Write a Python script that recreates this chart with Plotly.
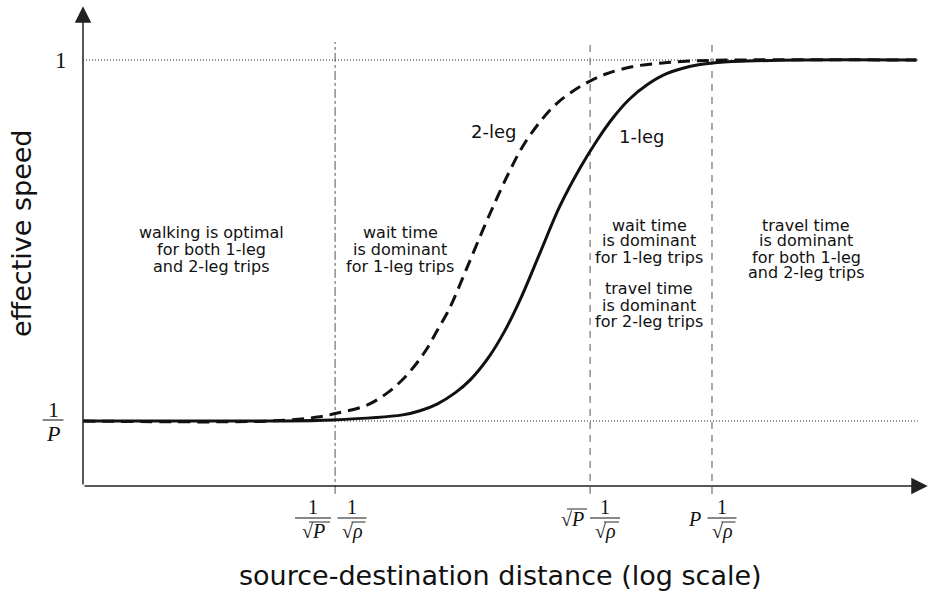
import plotly.graph_objects as go

# ---------------- data (log-distance units, normalized speed: 0 -> 1/P, 1 -> 1) -------------
one_leg_x = [-2.957, -1.49, -1.0, -0.45, -0.314, -0.18, -0.039, 0.08, 0.235, 0.353, 0.47, 0.63,
             0.78, 0.94, 1.07, 1.20, 1.33, 1.47, 1.62, 1.80, 1.98, 2.25, 2.67, 3.58]
one_leg_y = [0, 0, 0.003, 0.017, 0.0285, 0.047, 0.078, 0.114, 0.182, 0.251, 0.335, 0.468,
             0.593, 0.700, 0.775, 0.840, 0.892, 0.932, 0.962, 0.982, 0.992, 0.997, 1.0, 1.0]

two_leg_x = [-2.957, -1.49, -1.12, -0.96, -0.73, -0.57, -0.45, -0.34, -0.26, -0.18, -0.10,
             -0.055, 0.055, 0.18, 0.29, 0.39, 0.49, 0.63, 0.76, 0.89, 1.0, 1.15, 1.36, 1.59,
             1.80, 2.12, 3.58]
two_leg_y = [0, 0, 0.011, 0.022, 0.044, 0.078, 0.115, 0.160, 0.200, 0.250, 0.300, 0.333,
             0.425, 0.530, 0.618, 0.693, 0.760, 0.830, 0.880, 0.915, 0.938, 0.962, 0.982,
             0.992, 0.997, 1.0, 1.0]

h_levels = [0.0, 1.0]                 # 1/P and 1
v_marks = [-0.98, 1.02, 1.976]        # 1/sqrt(P)*1/sqrt(rho), sqrt(P)/sqrt(rho), P/sqrt(rho)
v_styles = ["dashdot", "7px,6px", "7px,6px"]

region_texts = [
    ["walking is optimal", "for both 1-leg", "and 2-leg trips"],
    ["wait time", "is dominant", "for 1-leg trips"],
    ["wait time", "is dominant", "for 1-leg trips", "", "travel time", "is dominant", "for 2-leg trips"],
    ["travel time", "is dominant", "for both 1-leg", "and 2-leg trips"],
]
curve_labels = ["2-leg", "1-leg"]

# ---------------- layout geometry ----------------
W, H = 929, 592
L, R, T, B = 83, 0, 5, 92
X_MIN, X_MAX = -2.957, 3.678
Y_MIN, Y_MAX = -0.2188, 1.1524
Y_AXIS = -0.18
PW, PH = W - L - R, H - T - B


def px(xp):   # pixel -> paper x
    return (xp - L) / PW


def py(yp):   # pixel -> paper y
    return (H - B - yp) / PH


SANS = "DejaVu Sans"
SERIF = "Liberation Serif"
INK = "#111111"

fig = go.Figure()
fig.add_trace(go.Scatter(x=one_leg_x, y=one_leg_y, mode="lines", name="1-leg",
                         line=dict(color=INK, width=3, shape="spline", smoothing=1.0)))
fig.add_trace(go.Scatter(x=two_leg_x, y=two_leg_y, mode="lines", name="2-leg",
                         line=dict(color=INK, width=3, dash="12px,7px", shape="spline", smoothing=1.0)))

shapes = []
for lv in h_levels:
    shapes.append(dict(type="line", xref="x", yref="y", x0=X_MIN, x1=3.59, y0=lv, y1=lv,
                       line=dict(color="#222", width=1, dash="1px,2px"), layer="below"))
for xm, ds in zip(v_marks, v_styles):
    shapes.append(dict(type="line", xref="x", yref="y", x0=xm, x1=xm, y0=-0.202, y1=1.05,
                       line=dict(color="#555", width=1, dash=ds), layer="below"))

annotations = []
# axes with arrows
annotations.append(dict(x=X_MAX - 0.01, y=Y_AXIS, ax=X_MIN, ay=Y_AXIS, xref="x", yref="y",
                        axref="x", ayref="y", showarrow=True, arrowhead=2, arrowsize=2.2,
                        arrowwidth=1.5, arrowcolor="#222", text=""))
annotations.append(dict(x=X_MIN, y=1.149, ax=X_MIN, ay=Y_AXIS, xref="x", yref="y",
                        axref="x", ayref="y", showarrow=True, arrowhead=2, arrowsize=2.2,
                        arrowwidth=1.5, arrowcolor="#222", text=""))


def txt(x, y, s, size, family=SANS, angle=0):
    annotations.append(dict(x=px(x), y=py(y), xref="paper", yref="paper", text=s,
                            showarrow=False, xanchor="center", yanchor="middle",
                            textangle=angle, font=dict(family=family, size=size, color=INK)))


def hline(x0, x1, y, w=1.0):
    shapes.append(dict(type="line", xref="paper", yref="paper", x0=px(x0), x1=px(x1),
                       y0=py(y), y1=py(y), line=dict(color=INK, width=w)))


def sqrt_den(cx, cy, sym, size):
    txt(cx, cy, "√<i>" + sym + "</i>", size, SERIF)


def frac(cx, bar, width, num, den, size=20, sqrt=False):
    txt(cx, bar - 11, num, size, SERIF)
    hline(cx - width / 2, cx + width / 2, bar)
    if sqrt:
        sqrt_den(cx, bar + 13, den, size)
        hline(cx - width / 2 + 14, cx + width / 2 - 1, bar + 4, 0.9)
    else:
        txt(cx, bar + 13, "<i>" + den + "</i>", size, SERIF)


# y tick labels
txt(61, 60, "1", 23, SERIF)
frac(53, 420, 21, "1", "P", size=22)

# x tick labels
frac(313, 518, 36, "1", "P", sqrt=True)
frac(352, 518, 29, "1", "ρ", sqrt=True)
sqrt_den(572, 519, "P", 20)
hline(567, 587, 509, 0.9)
frac(605, 518, 30, "1", "ρ", sqrt=True)
txt(694, 519, "<i>P</i>", 20, SERIF)
frac(722, 518, 29, "1", "ρ", sqrt=True)

# region texts
region_pos = [(211, 233, 16.5), (400, 233, 16.5), (649, 225, 16), (806, 225, 16)]
for lines, (cx, y0, sp) in zip(region_texts, region_pos):
    for i, s in enumerate(lines):
        if s:
            txt(cx, y0 + i * sp, s, 16)

# curve labels
txt(493, 131, curve_labels[0], 18)
txt(641, 136, curve_labels[1], 18)

# axis titles
txt(22, 233, "effective speed", 27, angle=-90)
txt(500, 575, "source-destination distance (log scale)", 27)

fig.update_layout(
    width=W, height=H,
    margin=dict(l=L, r=R, t=T, b=B),
    plot_bgcolor="white", paper_bgcolor="white",
    showlegend=False,
    xaxis=dict(range=[X_MIN, X_MAX], visible=False, fixedrange=True),
    yaxis=dict(range=[Y_MIN, Y_MAX], visible=False, fixedrange=True),
    shapes=shapes, annotations=annotations,
)
fig.write_html("out.html", post_script="document.body.style.margin='0px';",
               config={"displayModeBar": False})
